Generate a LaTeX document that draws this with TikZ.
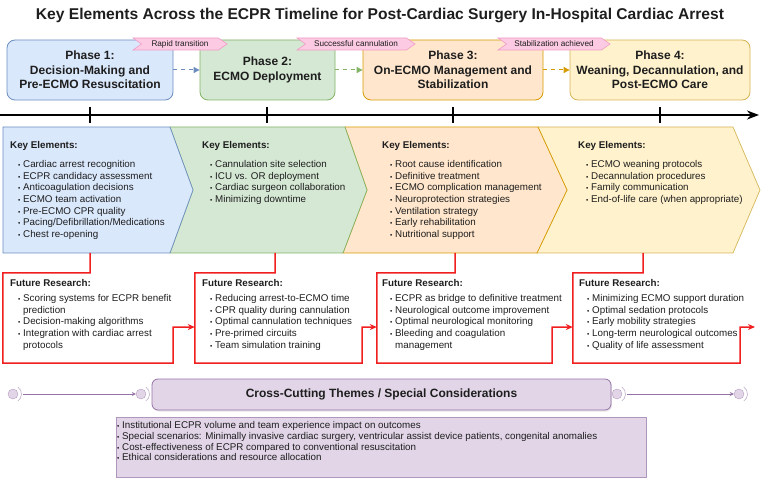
\documentclass[tikz,border=0pt]{standalone}
\usepackage{fontspec}
\setmainfont{Liberation Sans}
\usepackage{tikz}
\usetikzlibrary{calc,arrows.meta,shapes.symbols,shadows}

\definecolor{bluefill}{HTML}{DAE8FC}
\definecolor{bluedraw}{HTML}{6C8EBF}
\definecolor{greenfill}{HTML}{D5E8D4}
\definecolor{greendraw}{HTML}{82B366}
\definecolor{orangefill}{HTML}{FFE6CC}
\definecolor{orangedraw}{HTML}{D79B00}
\definecolor{yellowfill}{HTML}{FFF2CC}
\definecolor{yellowdraw}{HTML}{D6B656}
\definecolor{purplefill}{HTML}{E1D5E7}
\definecolor{purpledraw}{HTML}{9673A6}
\definecolor{tagfill}{HTML}{FCCAE2}
\definecolor{tagdraw}{HTML}{F09CC6}
\definecolor{frred}{HTML}{F01E1E}
\definecolor{textgray}{HTML}{1E1E1E}

\newcommand{\keyitem}{\hspace*{8pt}\makebox[5pt][l]{\fontsize{6.5}{6.5}\selectfont\textbullet}}
\newcommand{\keywrap}{\hspace*{13pt}}

\begin{document}
\begin{tikzpicture}[x=1pt,y=-1pt,
    every node/.style={font=\fontsize{9.8}{11.6}\selectfont, text=textgray},
    phase/.style={draw, rounded corners=8pt, line width=0.8pt, minimum height=60pt,
                  align=center, font=\fontsize{12}{14.4}\selectfont\bfseries},
    tagbox/.style={signal, signal to=east, signal from=west, signal pointer angle=70,
                   draw=tagdraw, fill=tagfill, line width=0.6pt, inner sep=0pt,
                   minimum height=12pt, font=\fontsize{8.2}{9}\selectfont},
    dasharrow/.style={line width=1pt, dash pattern=on 4pt off 4pt,
                      -{Triangle[length=6pt,width=6pt]}},
    steppath/.style={line width=0.7pt},
    listtext/.style={anchor=north west, inner sep=0pt, align=left},
    frframe/.style={minimum height=90pt, inner sep=0pt},
    redline/.style={draw=frred, line width=1.5pt, -{Stealth[length=7pt,width=6pt]}},
    endcirc/.style={circle, draw=purpledraw!70, fill=purplefill, minimum size=10pt, inner sep=0pt},
    endarc/.style={draw=purpledraw!60, line width=0.6pt},
    ccline/.style={draw=purpledraw, line width=0.7pt, shorten <=5pt,
                   -{Stealth[length=4pt,width=4pt]}}]

\useasboundingbox (0,0) rectangle (761,481);

% title
\node[font=\fontsize{15.6}{18}\selectfont\bfseries] (title) at (380,16)
  {Key Elements Across the ECPR Timeline for Post-Cardiac Surgery In-Hospital Cardiac Arrest};

% phase boxes
\node[phase, fill=bluefill, draw=bluedraw, minimum width=166pt] (p1) at (90,70)
  {Phase 1:\\Decision-Making and\\Pre-ECMO Resuscitation};
\node[phase, fill=greenfill, draw=greendraw, minimum width=135pt] (p2) at (267.5,70)
  {Phase 2:\\ECMO Deployment};
\node[phase, fill=orangefill, draw=orangedraw, minimum width=180pt] (p3) at (453,70)
  {Phase 3:\\On-ECMO Management and\\Stabilization};
\node[phase, fill=yellowfill, draw=yellowdraw, minimum width=180pt] (p4) at (660,70)
  {Phase 4:\\Weaning, Decannulation, and\\Post-ECMO Care};

\draw[dasharrow, bluedraw] (p1) -- (p2);
\draw[dasharrow, greendraw] (p2) -- (p3);
\draw[dasharrow, orangedraw] (p3) -- (p4);

% transition tags
\node[tagbox, minimum width=94pt] (tag1) at (180,44) {Rapid transition};
\node[tagbox, minimum width=118pt] (tag2) at (356,44) {Successful cannulation};
\node[tagbox, minimum width=112pt] (tag3) at (554,44) {Stabilization achieved};

% timeline
\coordinate (tlstart) at (0,115);
\coordinate (tlend) at (759,115);
\draw[line width=2pt, -{Stealth[length=12pt,width=9pt]}] (tlstart) -- (tlend);
\foreach \x in {90,267,453,660}
{
\draw[line width=1.2pt] (\x,107) -- (\x,123);
}

% key element steps
\draw[steppath, fill=yellowfill, draw=yellowdraw] (538,127) -- (733,127) -- (760,190) -- (733,253) -- (537,253) -- (567,190) -- cycle;
\draw[steppath, fill=orangefill, draw=orangedraw] (345,127) -- (538,127) -- (567,190) -- (537,253) -- (343,253) -- (367,190) -- cycle;
\draw[steppath, fill=greenfill, draw=greendraw] (170,127) -- (345,127) -- (367,190) -- (343,253) -- (170,253) -- (193,190) -- cycle;
\draw[steppath, fill=bluefill, draw=bluedraw] (3,127) -- (170,127) -- (193,190) -- (170,253) -- (3,253) -- cycle;

\node[listtext] (ke1) at (10,141.5) {\textbf{Key Elements:}\\[7.4pt]
  \keyitem Cardiac arrest recognition\\
  \keyitem ECPR candidacy assessment\\
  \keyitem Anticoagulation decisions\\
  \keyitem ECMO team activation\\
  \keyitem Pre-ECMO CPR quality\\
  \keyitem Pacing/Defibrillation/Medications\\
  \keyitem Chest re-opening};
\node[listtext] (ke2) at (202,141.5) {\textbf{Key Elements:}\\[7.4pt]
  \keyitem Cannulation site selection\\
  \keyitem ICU vs. OR deployment\\
  \keyitem Cardiac surgeon collaboration\\
  \keyitem Minimizing downtime};
\node[listtext] (ke3) at (382,141.5) {\textbf{Key Elements:}\\[7.4pt]
  \keyitem Root cause identification\\
  \keyitem Definitive treatment\\
  \keyitem ECMO complication management\\
  \keyitem Neuroprotection strategies\\
  \keyitem Ventilation strategy\\
  \keyitem Early rehabilitation\\
  \keyitem Nutritional support};
\node[listtext] (ke4) at (578,141.5) {\textbf{Key Elements:}\\[7.4pt]
  \keyitem ECMO weaning protocols\\
  \keyitem Decannulation procedures\\
  \keyitem Family communication\\
  \keyitem End-of-life care (when appropriate)};

% future research frames
\node[frframe, minimum width=170pt] (fr1) at (88,318) {};
\node[frframe, minimum width=167pt] (fr2) at (278.5,318) {};
\node[frframe, minimum width=175pt] (fr3) at (464.5,318) {};
\node[frframe, minimum width=167pt] (fr4) at (656.5,318) {};

\node[listtext] (frt1) at (10,279.4) {\textbf{Future Research:}\\[3.4pt]
  \keyitem Scoring systems for ECPR benefit\\
  \keywrap prediction\\
  \keyitem Decision-making algorithms\\
  \keyitem Integration with cardiac arrest\\
  \keywrap protocols};
\node[listtext] (frt2) at (202,279.4) {\textbf{Future Research:}\\[3.4pt]
  \keyitem Reducing arrest-to-ECMO time\\
  \keyitem CPR quality during cannulation\\
  \keyitem Optimal cannulation techniques\\
  \keyitem Pre-primed circuits\\
  \keyitem Team simulation training};
\node[listtext] (frt3) at (382,279.4) {\textbf{Future Research:}\\[3.4pt]
  \keyitem ECPR as bridge to definitive treatment\\
  \keyitem Neurological outcome improvement\\
  \keyitem Optimal neurological monitoring\\
  \keyitem Bleeding and coagulation\\
  \keywrap management};
\node[listtext] (frt4) at (579,279.4) {\textbf{Future Research:}\\[3.4pt]
  \keyitem Minimizing ECMO support duration\\
  \keyitem Optimal sedation protocols\\
  \keyitem Early mobility strategies\\
  \keyitem Long-term neurological outcomes\\
  \keyitem Quality of life assessment};

% red connectors
\coordinate (s1) at (90,253);
\coordinate (s2) at (275,253);
\coordinate (s3) at (455,253);
\coordinate (s4) at (643,253);
\foreach \n in {1,...,4}
{
\coordinate (j\n) at ($(fr\n.north east)!0.6!(fr\n.south east)$);
}
\coordinate (frout) at (755,327);

\draw[redline] (s1) |- (fr1.north west) |- (fr1.south east) -- (j1) -- (j1 -| fr2.west);
\draw[redline] (s2) |- (fr2.north west) |- (fr2.south east) -- (j2) -- (j2 -| fr3.west);
\draw[redline] (s3) |- (fr3.north west) |- (fr3.south east) -- (j3) -- (j3 -| fr4.west);
\draw[redline] (s4) |- (fr4.north west) |- (fr4.south east) -- (j4) -- (frout);

% cross-cutting themes
\node[draw=purpledraw, fill=purplefill, rounded corners=6pt, line width=0.8pt,
      minimum width=459pt, minimum height=31pt,
      drop shadow={shadow xshift=1pt, shadow yshift=-1.5pt, opacity=0.2},
      font=\fontsize{12}{14.4}\selectfont\bfseries] (cc) at (381.5,394.5)
  {Cross-Cutting Themes / Special Considerations};

\node[draw=purpledraw!75, fill=purplefill, line width=0.7pt,
      minimum width=530pt, minimum height=60pt] (cclist) at (381,447) {};
\node[listtext, font=\fontsize{9.8}{10.7}\selectfont] (cctext) at (117,421.5)
  {{\fontsize{6.5}{6.5}\selectfont\textbullet} Institutional ECPR volume and team experience impact on outcomes\\
   {\fontsize{6.5}{6.5}\selectfont\textbullet} Special scenarios: Minimally invasive cardiac surgery, ventricular assist device patients, congenital anomalies\\
   {\fontsize{6.5}{6.5}\selectfont\textbullet} Cost-effectiveness of ECPR compared to conventional resuscitation\\
   {\fontsize{6.5}{6.5}\selectfont\textbullet} Ethical considerations and resource allocation};

% interface ends
\node[endcirc] (c1) at (13,394) {};
\node[endcirc] (c2) at (141,394) {};
\node[endcirc] (c3) at (617,394) {};
\node[endcirc] (c4) at (739,394) {};
\foreach \c in {c1,c2,c3,c4}
{
\draw[endarc] (\c.center) ++(-55:8.5) arc[start angle=-55, end angle=55, radius=8.5];
}
\draw[ccline] (c1) -- (c2);
\draw[ccline] (c3) -- (c4);

\end{tikzpicture}
\end{document}
